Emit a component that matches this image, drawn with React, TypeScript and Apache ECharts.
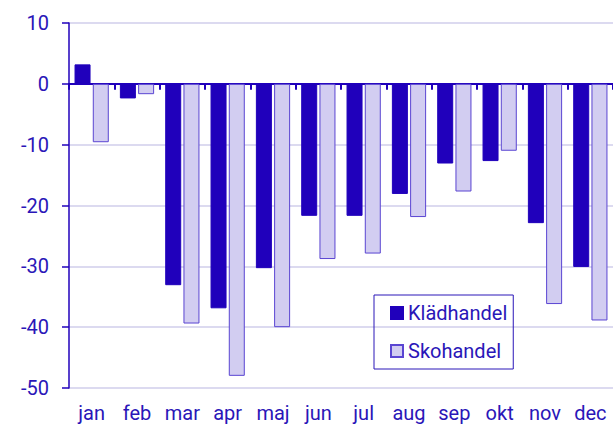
import React, { useEffect, useRef } from "react";
import * as echarts from "echarts";

const months = ["jan", "feb", "mar", "apr", "maj", "jun", "jul", "aug", "sep", "okt", "nov", "dec"];
const kladhandel = [3.2, -2.4, -33.1, -36.9, -30.3, -21.7, -21.7, -18.1, -13.1, -12.7, -22.9, -30.1];
const skohandel = [-9.6, -1.7, -39.4, -48.0, -40.0, -28.8, -27.9, -21.9, -17.7, -11.0, -36.2, -38.9];
const seriesNames = ["Klädhandel", "Skohandel"];

const TEXT = "#2a16b8";
const DARK = "#2000bb";
const LIGHT = "#d2cdf1";
const LIGHT_BORDER = "#5a45d2";
const GRID = "#dcdaf0";

export default function App() {
  const ref = useRef<HTMLDivElement>(null);
  useEffect(() => {
    if (!ref.current) return;
    const chart = echarts.init(ref.current, undefined, { renderer: "svg" });
    chart.setOption({
      animation: false,
      textStyle: { fontFamily: "Roboto" },
      grid: { left: 69, right: 0, top: 23, bottom: 40, containLabel: false },
      legend: {
        orient: "vertical",
        left: 374,
        top: 295,
        itemWidth: 12,
        itemHeight: 12,
        itemGap: 18,
        padding: [8, 6, 8, 16],
        borderColor: TEXT,
        borderWidth: 1,
        textStyle: { color: TEXT, fontSize: 20, fontFamily: "Roboto" },
        data: seriesNames.map((n) => ({ name: n, icon: "rect" })),
      },
      xAxis: [
        {
          type: "category",
          data: months,
          position: "bottom",
          axisLine: { show: false, onZero: false },
          axisTick: { show: false },
          axisLabel: { color: TEXT, fontSize: 20, margin: 15, interval: 0, hideOverlap: false },
        },
        {
          type: "category",
          data: months,
          position: "bottom",
          axisLine: { show: true, onZero: true, onZeroAxisIndex: 0, lineStyle: { color: DARK, width: 2 } },
          axisTick: { show: true, length: 6, interval: 0, lineStyle: { color: DARK, width: 2 } },
          axisLabel: { show: false },
        },
      ],
      yAxis: {
        type: "value",
        min: -50,
        max: 10,
        interval: 10,
        axisLine: { show: true, lineStyle: { color: DARK, width: 1.5 } },
        axisTick: { show: true, length: 7, lineStyle: { color: DARK, width: 1.5 } },
        axisLabel: { color: TEXT, fontSize: 20, margin: 20 },
        splitLine: { show: true, lineStyle: { color: GRID, width: 2 } },
      },
      series: [
        {
          name: seriesNames[0],
          type: "bar",
          data: kladhandel,
          barWidth: 16,
          barGap: "14%",
          itemStyle: { color: DARK, borderColor: DARK, borderWidth: 1 },
        },
        {
          name: seriesNames[1],
          type: "bar",
          data: skohandel,
          barWidth: 16,
          barGap: "14%",
          itemStyle: { color: LIGHT, borderColor: LIGHT_BORDER, borderWidth: 1 },
        },
      ],
    });
    return () => chart.dispose();
  }, []);
  return <div ref={ref} style={{ width: 613, height: 428, position: "absolute", left: 0, top: 0 }} />;
}
